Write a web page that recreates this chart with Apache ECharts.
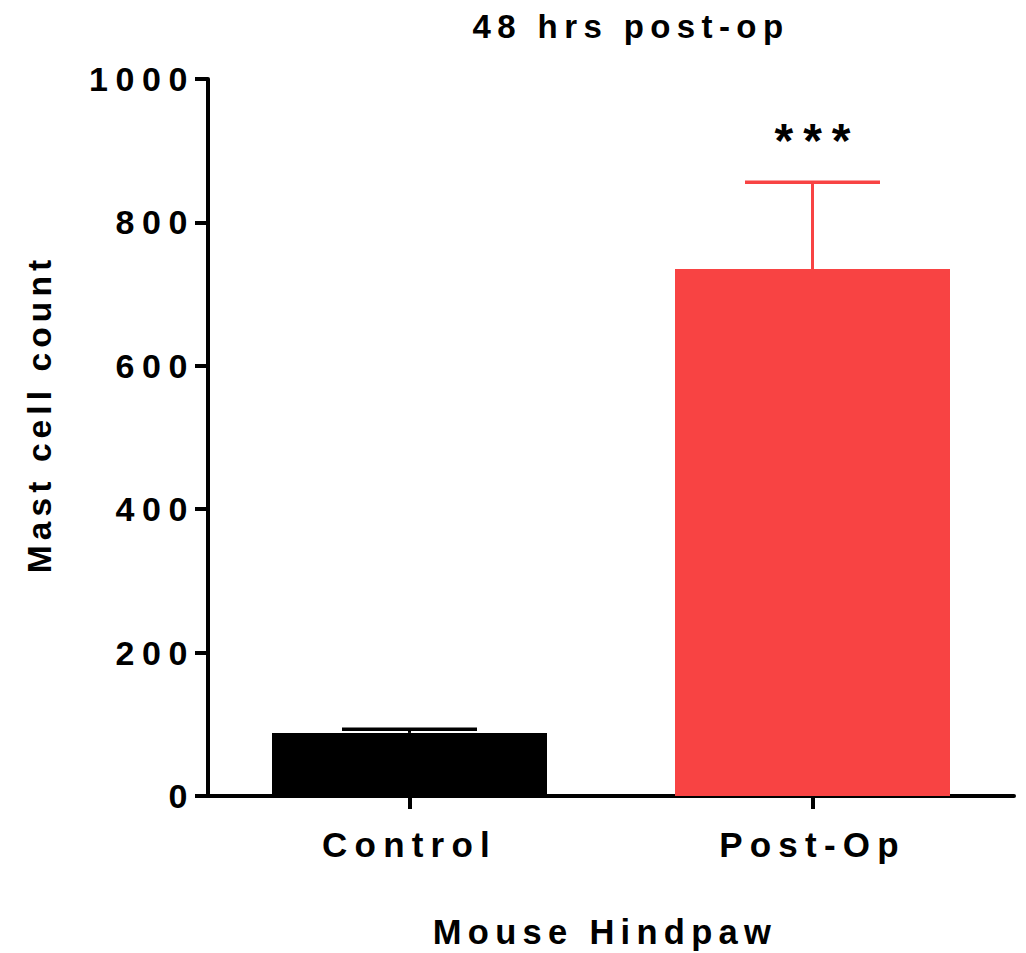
<!DOCTYPE html>
<html>
<head>
<meta charset="utf-8">
<script src="https://cdn.jsdelivr.net/npm/echarts@6/dist/echarts.min.js"></script>
<style>
  html, body { margin: 0; padding: 0; background: #fff; }
  #chart { width: 1026px; height: 953px; }
  #chart text[style*="34px"] { letter-spacing: 7.6px; }
  #chart text[style*="35px"] { letter-spacing: 7.2px; }
  #chart text[style*="33px"] { letter-spacing: 6.4px; }
  #chart text[style*="33.5px"] { letter-spacing: 5.1px; }
  #chart text[style*="34.5px"] { letter-spacing: 6.3px; }
  #chart text[style*="48px"] { letter-spacing: 10px; }
</style>
</head>
<body>
<div id="chart"></div>
<script>
const titleText = '48 hrs post-op';
const xAxisTitle = 'Mouse Hindpaw';
const yAxisTitle = 'Mast cell count';
const categories = ['Control', 'Post-Op'];
const meanValues = [88, 735];
const errorValues = [5, 121];
const sigLabels = ['', '***'];
const barColors = ['#000000', '#F84343'];
const yMin = 0, yMax = 1000, yStep = 200;

const FONT = '"Liberation Sans", Arial, Helvetica, sans-serif';
const chart = echarts.init(document.getElementById('chart'), null, { renderer: 'svg' });

const option = {
  animation: false,
  backgroundColor: '#ffffff',
  graphic: [{
    type: 'text',
    x: 631,
    y: 26.5,
    style: {
      text: titleText,
      fill: '#000',
      fontSize: 33,
      fontWeight: 'bold',
      fontFamily: FONT,
      align: 'center',
      verticalAlign: 'middle'
    }
  }],
  grid: { left: 208, right: 12, top: 79, bottom: 157, outerBoundsMode: 'none', containLabel: false },
  xAxis: {
    type: 'category',
    data: categories,
    boundaryGap: true,
    name: xAxisTitle,
    nameLocation: 'middle',
    nameGap: 118,
    nameTextStyle: { color: '#000', fontSize: 34.5, fontWeight: 'bold', fontFamily: FONT, padding: [0, 12, 0, 0] },
    axisLine: { show: true, lineStyle: { color: '#000', width: 4 } },
    axisTick: { show: true, alignWithLabel: true, length: 13, lineStyle: { color: '#000', width: 4 } },
    axisLabel: { color: '#000', fontSize: 35, fontWeight: 'bold', fontFamily: FONT, margin: 31 },
    splitLine: { show: false }
  },
  yAxis: {
    type: 'value',
    min: yMin,
    max: yMax,
    interval: yStep,
    name: yAxisTitle,
    nameLocation: 'middle',
    nameGap: 152,
    nameTextStyle: { color: '#000', fontSize: 33.5, fontWeight: 'bold', fontFamily: FONT, padding: [0, 0, 0, 47] },
    axisLine: { show: true, lineStyle: { color: '#000', width: 4 } },
    axisTick: { show: true, length: 13, lineStyle: { color: '#000', width: 4 } },
    axisLabel: {
      color: '#000', fontSize: 34, fontWeight: 'bold', fontFamily: FONT, margin: 13, padding: [6, 0, 0, 0],
      formatter: function (v) { return String(v); }
    },
    splitLine: { show: false }
  },
  series: [
    {
      type: 'bar',
      barWidth: 275,
      data: meanValues.map((v, i) => ({ value: v, itemStyle: { color: barColors[i] } })),
      z: 2
    },
    {
      type: 'custom',
      z: 3,
      data: categories.map((c, i) => [i, meanValues[i], errorValues[i]]),
      renderItem: function (params, api) {
        const idx = params.dataIndex;
        const ci = api.value(0), m = api.value(1), e = api.value(2);
        const p0 = api.coord([ci, m]);
        const p1 = api.coord([ci, m + e]);
        const half = 67.5;
        const color = barColors[idx];
        const children = [
          { type: 'line', shape: { x1: p0[0], y1: p0[1], x2: p1[0], y2: p1[1] }, style: { stroke: color, lineWidth: 3 } },
          { type: 'line', shape: { x1: p1[0] - half, y1: p1[1], x2: p1[0] + half, y2: p1[1] }, style: { stroke: color, lineWidth: 3.5 } }
        ];
        if (sigLabels[idx]) {
          children.push({
            type: 'text',
            x: p1[0] + 5,
            y: p1[1] - 42,
            style: {
              text: sigLabels[idx],
              fill: '#000',
              fontSize: 48,
              fontWeight: 'bold',
              fontFamily: FONT,
              align: 'center',
              verticalAlign: 'middle'
            }
          });
        }
        return { type: 'group', children: children };
      }
    }
  ]
};
chart.setOption(option);
</script>
</body>
</html>
